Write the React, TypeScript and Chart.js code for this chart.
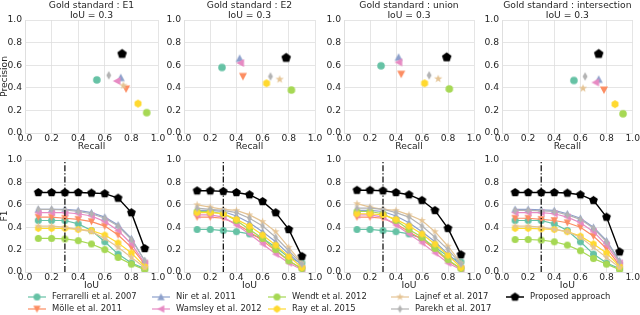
import React, { useEffect, useRef } from 'react';
import { Chart, registerables } from 'chart.js';
Chart.register(...registerables);

// ---------------- data ----------------
const METHODS = [
  'Ferrarelli et al. 2007',
  'Mölle et al. 2011',
  'Nir et al. 2011',
  'Wamsley et al. 2012',
  'Wendt et al. 2012',
  'Ray et al. 2015',
  'Lajnef et al. 2017',
  'Parekh et al. 2017',
  'Proposed approach',
];
const COLORS = ['#66c2a5', '#fc8d62', '#8da0cb', '#e78ac3', '#a6d854', '#ffd92f', '#e5c494', '#b3b3b3', '#000000'];
const MARKERS = ['circle', 'triDown', 'triUp', 'triLeft', 'circle', 'hexagon', 'star', 'thinDiamond', 'pentagon'];
const GOLD_STANDARDS = ['E1', 'E2', 'union', 'intersection'];
const IOU_THRESHOLD = 0.3;
const IOU_VALUES = [0.1, 0.2, 0.3, 0.4, 0.5, 0.6, 0.7, 0.8, 0.9];
const AXIS_TICKS = [0, 0.2, 0.4, 0.6, 0.8, 1.0];

// Precision / recall at IoU = 0.3 (order follows METHODS)
const RECALL_E1 = [0.54, 0.76, 0.72, 0.69, 0.915, 0.85, 0.74, 0.63, 0.73];
const PRECISION_E1 = [0.47, 0.39, 0.49, 0.46, 0.18, 0.26, 0.42, 0.51, 0.7];
const RECALL_E2 = [0.29, 0.45, 0.425, 0.43, 0.82, 0.63, 0.73, 0.66, 0.78];
const PRECISION_E2 = [0.58, 0.5, 0.66, 0.62, 0.38, 0.44, 0.475, 0.5, 0.665];
const RECALL_UNION = [0.285, 0.44, 0.42, 0.42, 0.81, 0.62, 0.725, 0.655, 0.79];
const PRECISION_UNION = [0.595, 0.52, 0.67, 0.625, 0.39, 0.44, 0.48, 0.51, 0.67];
const RECALL_INTERSECTION = [0.55, 0.78, 0.74, 0.715, 0.926, 0.865, 0.62, 0.636, 0.74];
const PRECISION_INTERSECTION = [0.465, 0.38, 0.475, 0.447, 0.17, 0.255, 0.395, 0.5, 0.7];

// F1 vs IoU (rows follow METHODS, columns follow IOU_VALUES)
const F1_E1 = [
  [0.46, 0.46, 0.46, 0.43, 0.37, 0.27, 0.16, 0.08, 0.03],
  [0.49, 0.49, 0.48, 0.47, 0.45, 0.41, 0.33, 0.22, 0.07],
  [0.56, 0.56, 0.56, 0.55, 0.53, 0.49, 0.42, 0.3, 0.1],
  [0.53, 0.53, 0.53, 0.52, 0.5, 0.45, 0.37, 0.25, 0.08],
  [0.3, 0.3, 0.295, 0.28, 0.25, 0.2, 0.13, 0.07, 0.02],
  [0.39, 0.39, 0.39, 0.38, 0.37, 0.33, 0.26, 0.17, 0.05],
  [0.41, 0.41, 0.4, 0.38, 0.36, 0.3, 0.22, 0.13, 0.04],
  [0.56, 0.56, 0.555, 0.54, 0.52, 0.48, 0.41, 0.29, 0.1],
  [0.71, 0.71, 0.71, 0.71, 0.705, 0.7, 0.66, 0.53, 0.21],
];
const F1_E2 = [
  [0.38, 0.38, 0.37, 0.36, 0.34, 0.3, 0.22, 0.13, 0.08],
  [0.49, 0.49, 0.48, 0.43, 0.36, 0.28, 0.19, 0.1, 0.03],
  [0.55, 0.55, 0.54, 0.5, 0.44, 0.36, 0.27, 0.16, 0.06],
  [0.51, 0.51, 0.49, 0.42, 0.34, 0.25, 0.16, 0.08, 0.02],
  [0.54, 0.54, 0.52, 0.46, 0.38, 0.3, 0.2, 0.1, 0.03],
  [0.53, 0.53, 0.52, 0.47, 0.41, 0.33, 0.24, 0.14, 0.04],
  [0.6, 0.58, 0.56, 0.55, 0.51, 0.45, 0.36, 0.22, 0.08],
  [0.57, 0.56, 0.55, 0.53, 0.48, 0.41, 0.31, 0.19, 0.07],
  [0.725, 0.725, 0.72, 0.71, 0.69, 0.63, 0.53, 0.38, 0.14],
];
const F1_UNION = [
  [0.38, 0.38, 0.37, 0.36, 0.34, 0.3, 0.22, 0.14, 0.09],
  [0.49, 0.49, 0.48, 0.43, 0.36, 0.29, 0.2, 0.1, 0.03],
  [0.55, 0.55, 0.54, 0.5, 0.44, 0.36, 0.27, 0.16, 0.06],
  [0.51, 0.51, 0.49, 0.42, 0.34, 0.26, 0.17, 0.08, 0.02],
  [0.54, 0.54, 0.52, 0.46, 0.38, 0.31, 0.21, 0.11, 0.03],
  [0.52, 0.52, 0.51, 0.47, 0.41, 0.34, 0.25, 0.15, 0.04],
  [0.61, 0.58, 0.56, 0.55, 0.51, 0.46, 0.36, 0.23, 0.08],
  [0.57, 0.57, 0.56, 0.53, 0.49, 0.41, 0.31, 0.2, 0.07],
  [0.73, 0.73, 0.725, 0.71, 0.69, 0.64, 0.55, 0.39, 0.155],
];
const F1_INTERSECTION = [
  [0.46, 0.46, 0.46, 0.43, 0.37, 0.27, 0.16, 0.08, 0.03],
  [0.48, 0.48, 0.47, 0.46, 0.44, 0.4, 0.32, 0.21, 0.06],
  [0.56, 0.56, 0.555, 0.55, 0.52, 0.48, 0.4, 0.28, 0.1],
  [0.53, 0.53, 0.53, 0.52, 0.49, 0.44, 0.36, 0.24, 0.08],
  [0.29, 0.29, 0.285, 0.27, 0.24, 0.19, 0.12, 0.07, 0.02],
  [0.39, 0.39, 0.385, 0.38, 0.36, 0.32, 0.25, 0.17, 0.05],
  [0.41, 0.41, 0.4, 0.38, 0.36, 0.31, 0.22, 0.13, 0.04],
  [0.55, 0.55, 0.545, 0.54, 0.51, 0.47, 0.39, 0.27, 0.09],
  [0.71, 0.71, 0.71, 0.71, 0.705, 0.69, 0.64, 0.49, 0.18],
];

const RECALLS = [RECALL_E1, RECALL_E2, RECALL_UNION, RECALL_INTERSECTION];
const PRECISIONS = [PRECISION_E1, PRECISION_E2, PRECISION_UNION, PRECISION_INTERSECTION];
const F1S = [F1_E1, F1_E2, F1_UNION, F1_INTERSECTION];

// ---------------- layout / style ----------------
const W = 640;
const H = 315;
const COL_LEFT = [25, 184, 344, 502];
const COL_RIGHT = [158, 315, 474, 633];
const ROW_TOP = [20, 160];
const ROW_BOTTOM = [133, 272];
const Y_W = 25;
const X_H = 14;
const TEXT = '#262626';
const GRID = '#dedede';
const FONT = "'DejaVu Sans', sans-serif";
const TICK_SIZE = 9.2;
const TITLE_SIZE = 9.2;
const LABEL_SIZE = 9.2;
const LEGEND_SIZE = 8.4;
const LEGEND_CX = [37, 161, 277, 400, 515];
const LEGEND_ROWS = [297, 309];

function makeMarker(shape: string, color: string, r: number): HTMLCanvasElement {
  const size = Math.ceil(r * 2.4 + 2);
  const c = document.createElement('canvas');
  c.width = size;
  c.height = size;
  const ctx = c.getContext('2d')!;
  const cx = size / 2;
  const cy = size / 2;
  ctx.fillStyle = color;
  ctx.beginPath();
  const poly = (pts: number[][]) => {
    pts.forEach(([x, y], i) => (i ? ctx.lineTo(cx + x, cy + y) : ctx.moveTo(cx + x, cy + y)));
    ctx.closePath();
  };
  const regular = (n: number, rad: number) =>
    Array.from({ length: n }, (_, k) => {
      const a = -Math.PI / 2 + (2 * Math.PI * k) / n;
      return [rad * Math.cos(a), rad * Math.sin(a)];
    });
  switch (shape) {
    case 'circle':
      ctx.arc(cx, cy, r, 0, Math.PI * 2);
      break;
    case 'triUp':
      poly([[0, -r * 1.05], [r * 1.05, r * 0.95], [-r * 1.05, r * 0.95]]);
      break;
    case 'triDown':
      poly([[0, r * 1.05], [r * 1.05, -r * 0.95], [-r * 1.05, -r * 0.95]]);
      break;
    case 'triLeft':
      poly([[-r * 1.05, 0], [r * 0.95, -r * 1.05], [r * 0.95, r * 1.05]]);
      break;
    case 'hexagon':
      poly(regular(6, r * 1.05));
      break;
    case 'pentagon':
      poly(regular(5, r * 1.1));
      break;
    case 'star': {
      const pts: number[][] = [];
      for (let k = 0; k < 10; k++) {
        const rad = k % 2 ? r * 0.45 : r * 1.15;
        const a = -Math.PI / 2 + (k * Math.PI) / 5;
        pts.push([rad * Math.cos(a), rad * Math.sin(a)]);
      }
      poly(pts);
      break;
    }
    case 'thinDiamond':
      poly([[0, -r * 1.15], [r * 0.65, 0], [0, r * 1.15], [-r * 0.65, 0]]);
      break;
  }
  ctx.fill();
  return c;
}

function markerFor(i: number, base: number) {
  const r = i === 8 ? base * 1.2 : base;
  return makeMarker(MARKERS[i], COLORS[i], r);
}

function scales() {
  const common = (isX: boolean) => ({
    type: 'linear' as const,
    min: 0,
    max: 1,
    afterBuildTicks: (s: any) => {
      s.ticks = AXIS_TICKS.map((v) => ({ value: v }));
    },
    ticks: {
      padding: isX ? 0 : 3,
      maxRotation: 0,
      autoSkip: false,
      color: TEXT,
      font: { size: TICK_SIZE, family: FONT },
      callback: (v: any) => Number(v).toFixed(1),
    },
    grid: { color: GRID, lineWidth: 0.8, drawTicks: false },
    border: { color: GRID, width: 0.8 },
    afterFit: (s: any) => {
      if (isX) s.height = X_H;
      else s.width = Y_W;
    },
  });
  return { x: common(true), y: common(false) };
}

function layoutFor(col: number, row: number) {
  return {
    padding: {
      left: COL_LEFT[col] - Y_W,
      right: W - COL_RIGHT[col],
      top: ROW_TOP[row],
      bottom: H - ROW_BOTTOM[row] - X_H,
    },
  };
}

function decoPlugin(opts: { title?: string[]; xLabel: string; yLabel?: string; legend?: boolean }) {
  return {
    id: 'deco',
    afterDraw(chart: any) {
      const ctx = chart.ctx as CanvasRenderingContext2D;
      const a = chart.chartArea;
      const cx = (a.left + a.right) / 2;
      ctx.save();
      ctx.fillStyle = TEXT;
      ctx.textAlign = 'center';
      ctx.textBaseline = 'middle';
      if (opts.title) {
        ctx.font = `${TITLE_SIZE}px ${FONT}`;
        ctx.fillText(opts.title[0], cx, 5.5);
        ctx.fillText(opts.title[1], cx, 15.5);
      }
      ctx.font = `${LABEL_SIZE}px ${FONT}`;
      ctx.fillText(opts.xLabel, cx, a.bottom + 14);
      if (opts.yLabel) {
        ctx.save();
        ctx.translate(5, (a.top + a.bottom) / 2);
        ctx.rotate(-Math.PI / 2);
        ctx.fillText(opts.yLabel, 0, 0);
        ctx.restore();
      }
      if (opts.legend) {
        ctx.font = `${LEGEND_SIZE}px ${FONT}`;
        ctx.textAlign = 'left';
        METHODS.forEach((name, i) => {
          const col = Math.floor(i / 2);
          const row = i % 2;
          const mx = LEGEND_CX[col];
          const my = LEGEND_ROWS[row];
          ctx.strokeStyle = COLORS[i];
          ctx.lineWidth = i === 8 ? 1.5 : 1.2;
          ctx.beginPath();
          ctx.moveTo(mx - 9, my);
          ctx.lineTo(mx + 9, my);
          ctx.stroke();
          const m = markerFor(i, 3.5);
          ctx.drawImage(m, mx - m.width / 2, my - m.height / 2);
          ctx.fillStyle = TEXT;
          ctx.fillText(name, mx + 15, my);
        });
      }
      ctx.restore();
    },
  };
}

function makeScatter(canvas: HTMLCanvasElement, col: number) {
  const rec = RECALLS[col];
  const prec = PRECISIONS[col];
  const datasets = METHODS.map((name, i) => ({
    label: name,
    data: [{ x: rec[i], y: prec[i] }],
    pointStyle: markerFor(i, 3.8) as any,
    pointRadius: 4,
    backgroundColor: COLORS[i],
    borderColor: COLORS[i],
    order: 8 - i,
  }));
  return new Chart(canvas, {
    type: 'scatter',
    data: { datasets },
    options: {
      responsive: false,
      animation: false,
      events: [],
      layout: layoutFor(col, 0),
      plugins: { legend: { display: false }, tooltip: { enabled: false } },
      scales: scales() as any,
    },
    plugins: [
      decoPlugin({
        title: [`Gold standard : ${GOLD_STANDARDS[col]}`, `IoU = ${IOU_THRESHOLD}`],
        xLabel: 'Recall',
        yLabel: col === 0 ? 'Precision' : undefined,
      }),
    ],
  });
}

function makeF1(canvas: HTMLCanvasElement, col: number) {
  const f1 = F1S[col];
  const datasets: any[] = METHODS.map((name, i) => ({
    label: name,
    data: IOU_VALUES.map((x, k) => ({ x, y: f1[i][k] })),
    borderColor: COLORS[i],
    backgroundColor: COLORS[i],
    borderWidth: i === 8 ? 1.4 : 1.2,
    pointStyle: markerFor(i, 3.5) as any,
    pointRadius: 3.5,
    tension: 0,
    order: 9 - i,
  }));
  datasets.push({
    label: 'threshold',
    data: [
      { x: IOU_THRESHOLD, y: 0 },
      { x: IOU_THRESHOLD, y: 1 },
    ],
    borderColor: '#000000',
    borderWidth: 1.2,
    borderDash: [6, 2, 1.2, 2],
    pointRadius: 0,
    order: 0,
  });
  return new Chart(canvas, {
    type: 'line',
    data: { datasets },
    options: {
      responsive: false,
      animation: false,
      events: [],
      layout: layoutFor(col, 1),
      plugins: { legend: { display: false }, tooltip: { enabled: false } },
      scales: scales() as any,
    },
    plugins: [
      decoPlugin({
        xLabel: 'IoU',
        yLabel: col === 0 ? 'F1' : undefined,
        legend: col === 3,
      }),
    ],
  });
}

export default function App() {
  const refs = useRef<(HTMLCanvasElement | null)[]>([]);
  useEffect(() => {
    Chart.defaults.font.family = FONT;
    Chart.defaults.color = TEXT;
    const charts: Chart[] = [];
    for (let c = 0; c < 4; c++) {
      charts.push(makeScatter(refs.current[c]!, c));
      charts.push(makeF1(refs.current[4 + c]!, c));
    }
    return () => charts.forEach((ch) => ch.destroy());
  }, []);
  return (
    <div style={{ position: 'fixed', left: 0, top: 0, width: W, height: H, background: '#ffffff', overflow: 'hidden' }}>
      {Array.from({ length: 8 }).map((_, i) => (
        <canvas
          key={i}
          ref={(el) => {
            refs.current[i] = el;
          }}
          width={W}
          height={H}
          style={{ position: 'absolute', left: 0, top: 0, width: W, height: H }}
        />
      ))}
    </div>
  );
}
